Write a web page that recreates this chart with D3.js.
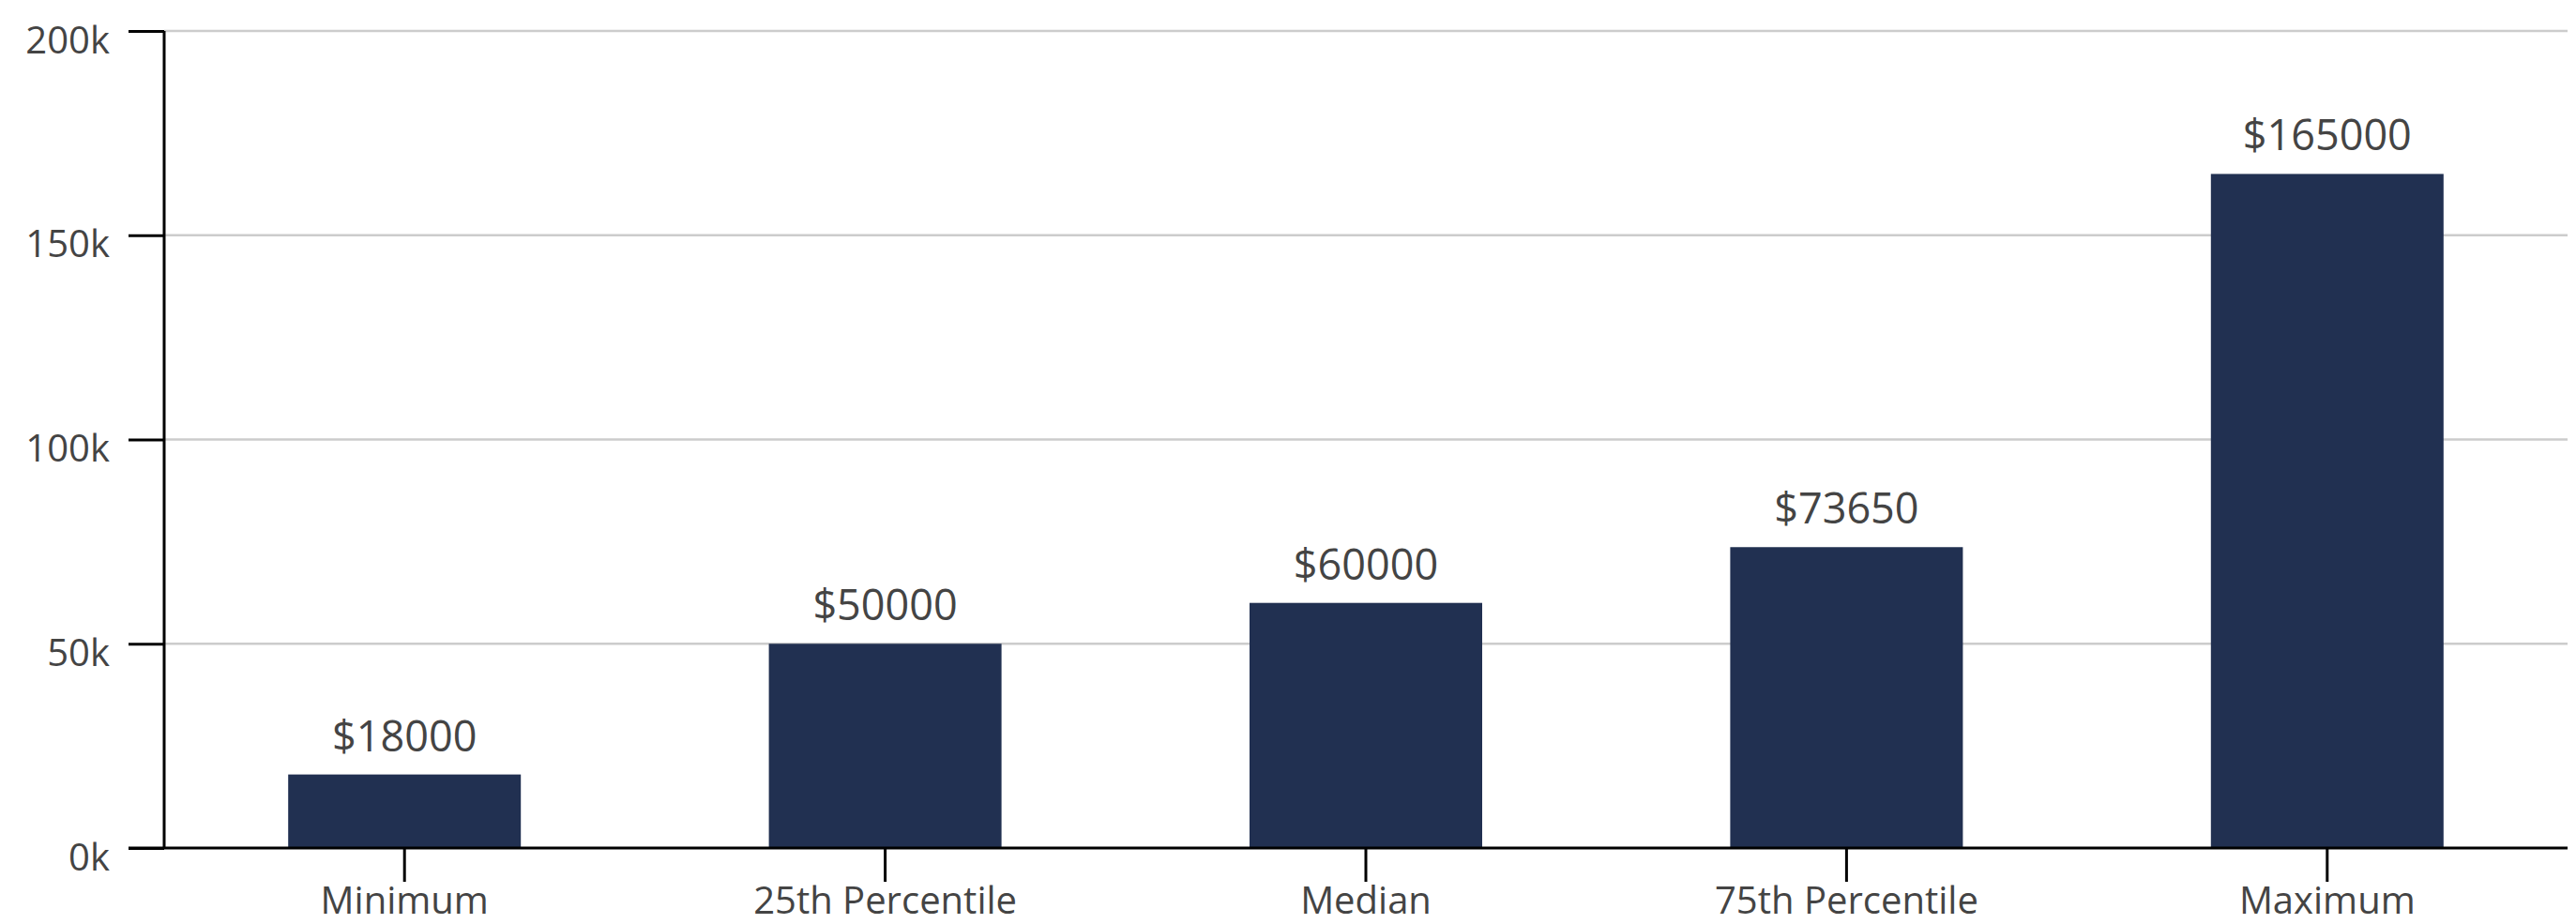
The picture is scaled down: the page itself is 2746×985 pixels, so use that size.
<!DOCTYPE html>
<html>
<head>
<meta charset="utf-8">
<script src="https://cdn.jsdelivr.net/npm/d3@7"></script>
<style>
  body { margin: 0; background: #fff; }
  svg text { font-family: "Open Sans", sans-serif; fill: #444; }
</style>
</head>
<body>
<svg id="chart" width="2746" height="985"></svg>
<script>
// data
var categories = ['Minimum', '25th Percentile', 'Median', '75th Percentile', 'Maximum'];
var salaries = [18000, 50000, 60000, 73650, 165000];
var yTicks = [0, 50000, 100000, 150000, 200000];

var margin = {top: 33, right: 9, bottom: 81, left: 175};
var width = 2746 - margin.left - margin.right;
var height = 985 - margin.top - margin.bottom;

var svg = d3.select('#chart');
var g = svg.append('g').attr('transform', 'translate(' + margin.left + ',' + margin.top + ')');

var x = d3.scaleBand().domain(categories).range([0, width])
    .paddingInner(0.516).paddingOuter(0.258);
var y = d3.scaleLinear().domain([0, 200000]).range([height, 0]);

//gridlines
g.selectAll('.grid').data(yTicks.filter(d => d > 0)).enter()
    .append('line')
    .attr('class', 'grid')
    .attr('x1', 0).attr('x2', width)
    .attr('y1', d => y(d)).attr('y2', d => y(d))
    .attr('stroke', '#cccccc')
    .attr('stroke-width', 2.5);

//bars
g.selectAll('.bar').data(salaries).enter()
    .append('rect')
    .attr('class', 'bar')
    .attr('x', (d, i) => x(categories[i]))
    .attr('width', x.bandwidth())
    .attr('y', d => y(d))
    .attr('height', d => height - y(d))
    .attr('fill', '#213051');

//value labels
g.selectAll('.val').data(salaries).enter()
    .append('text')
    .attr('class', 'val')
    .attr('x', (d, i) => x(categories[i]) + x.bandwidth() / 2)
    .attr('y', d => y(d) - 25)
    .attr('text-anchor', 'middle')
    .style('font-size', '45px')
    .text(d => '$' + d);

//axes
var yAxis = g.append('g')
    .call(d3.axisLeft(y).tickValues(yTicks).tickSize(38).tickPadding(20)
        .tickFormat(d => (d / 1000) + 'k'));
var xAxis = g.append('g')
    .attr('transform', 'translate(0,' + height + ')')
    .call(d3.axisBottom(x).tickSize(36).tickPadding(10).tickSizeOuter(0));

[yAxis, xAxis].forEach(a => {
    a.select('.domain').attr('stroke', '#000').attr('stroke-width', 3);
    a.selectAll('.tick line').attr('stroke', '#000').attr('stroke-width', 3);
    a.selectAll('.tick text').style('font-size', '40px').attr('fill', '#444');
});
yAxis.select('.domain').attr('d', 'M0,' + height + 'V0');
yAxis.selectAll('.tick text').attr('dy', '0.575em');
xAxis.select('.domain').attr('d', 'M-38,0H' + width);
xAxis.selectAll('.tick text').attr('dy', '0.6em');
</script>
</body>
</html>
